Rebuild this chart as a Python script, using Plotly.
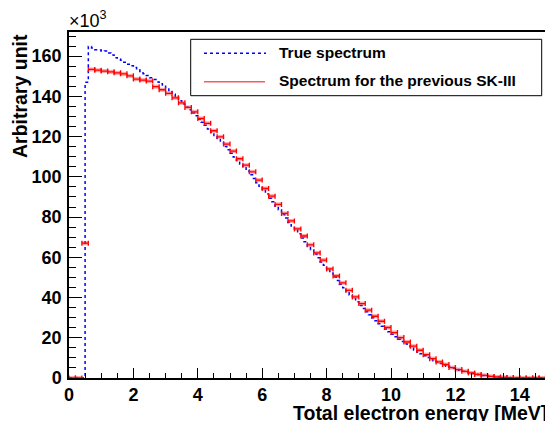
import numpy as np
import plotly.graph_objects as go

# ---------------- data ----------------
true_bin_width = 0.1   # MeV
sk3_bin_width = 0.2    # MeV
x_max = 15.0

# True spectrum, 0.1 MeV bins starting at 0 MeV (units of 10^3)
true_counts = [
    0, 0, 0, 0, 0,
    147.0, 164.8, 164.0, 163.2, 163.0,
    162.4, 162.6, 161.5, 160.6, 159.2, 158.6, 157.9, 157.0, 156.0, 155.2,
    154.3, 153.2, 152.4, 151.3, 150.4, 149.2, 148.4, 147.2, 146.3, 145.0,
    144.0, 142.9, 141.1, 139.4, 137.8, 136.2, 134.6, 133.4, 131.7, 130.4,
    128.6, 127.1, 125.6, 123.8, 122.1, 120.5, 118.6, 117.2, 115.1, 113.5,
    111.7, 109.8, 108.1, 106.4, 104.5, 102.9, 101.0, 99.2, 97.1, 95.3,
    93.2, 91.5, 89.4, 87.6, 85.4, 83.6, 81.3, 79.5, 77.4, 75.5,
    73.6, 71.7, 69.6, 67.7, 65.6, 63.8, 61.6, 59.8, 57.7, 56.0,
    53.9, 52.2, 50.2, 48.5, 46.6, 44.9, 43.0, 41.3, 39.5, 37.9,
    36.1, 34.6, 32.9, 31.4, 29.9, 28.5, 27.0, 25.7, 24.3, 23.0,
    21.7, 20.5, 19.3, 18.2, 17.0, 15.9, 14.9, 13.9, 12.9, 12.0,
    11.1, 10.2, 9.4, 8.6, 7.9, 7.2, 6.5, 5.9, 5.3, 4.8,
    4.2, 3.8, 3.3, 2.9, 2.5, 2.2, 1.9, 1.6, 1.3, 1.1,
    0.9, 0.7, 0.6, 0.45, 0.35, 0.25, 0.2, 0.15, 0.1, 0.07,
    0.05, 0.04, 0.03, 0.02, 0.02, 0.01, 0.01, 0.01, 0, 0,
]

# Spectrum for the previous SK-III, 0.2 MeV bins starting at 0 MeV
sk3_counts = [
    0, 0, 67.0, 153.4, 153.0, 152.6, 152.2, 151.7, 151.2, 150.2,
    148.6, 148.1, 147.6, 144.8, 143.3, 141.5, 139.3, 136.8, 134.5, 132.3,
    129.0, 126.6, 122.9, 119.9, 116.3, 112.8, 109.0, 105.8, 102.5, 98.4,
    94.2, 90.4, 86.3, 81.8, 78.1, 74.1, 70.6, 66.2, 62.2, 58.6,
    54.2, 50.7, 47.3, 43.6, 40.3, 37.0, 33.7, 30.7, 28.2, 25.1,
    22.6, 20.1, 17.9, 15.8, 13.8, 11.6, 9.6, 8.0, 6.7, 5.2,
    4.2, 3.3, 2.5, 1.8, 1.3, 0.8, 0.5, 0.3, 0.2, 0.1,
    0.05, 0.03, 0.02, 0.01, 0,
]

legend_labels = ["True spectrum", "Spectrum for the previous SK-III"]
x_title = "Total electron energy [MeV]"
y_title = "Arbitrary unit"
x_tickvals = [0, 2, 4, 6, 8, 10, 12, 14]
y_tickvals = [0, 20, 40, 60, 80, 100, 120, 140, 160]

# ---------------- derived ----------------
true_edges = np.arange(len(true_counts) + 1) * true_bin_width
true_step_y = list(true_counts) + [true_counts[-1]]
sk3_centers = (np.arange(len(sk3_counts)) + 0.5) * sk3_bin_width

FONT = "Liberation Sans, Arial, sans-serif"
# page is rendered with an 8px body margin -> compensate
OFF = 8
PAGE_W, PAGE_H = 553, 421
W, H = PAGE_W - OFF, PAGE_H - OFF
# plot frame in page pixels
FX0, FX1, FY0, FY1 = 69, 552, 32, 378
L = FX0 - OFF
R = W - (FX1 - OFF)
T = FY0 - OFF
B = H - (FY1 - OFF)
pw, ph = FX1 - FX0, FY1 - FY0

def px(xp):  # page x pixel -> paper
    return (xp - FX0) / pw

def py(yp):  # page y pixel -> paper
    return (FY1 - yp) / ph

fig = go.Figure()

# True spectrum: dotted blue histogram
fig.add_trace(go.Scatter(
    x=true_edges, y=true_step_y, mode="lines", line_shape="hv",
    line=dict(color="#0000ff", width=1.5, dash="dot"),
    showlegend=False, hoverinfo="skip",
))

# SK-III: light band under the bars
fig.add_trace(go.Scatter(
    x=sk3_centers, y=sk3_counts, mode="markers",
    marker=dict(size=0.1, color="rgba(255,0,0,0)"),
    error_x=dict(type="constant", value=sk3_bin_width / 2,
                 color="rgba(255,60,60,0.45)", thickness=4, width=0),
    showlegend=False, hoverinfo="skip",
))
# SK-III: red horizontal error bars with end caps
fig.add_trace(go.Scatter(
    x=sk3_centers, y=sk3_counts, mode="markers",
    marker=dict(size=0.1, color="rgba(255,0,0,0)"),
    error_x=dict(type="constant", value=sk3_bin_width / 2,
                 color="#ff0000", thickness=1.3, width=2.5),
    showlegend=False, hoverinfo="skip",
))

# Legend (manual, ROOT style)
lx0, lx1, ly0, ly1 = 190.7, 541.7, 39.3, 95.7
fig.add_shape(type="rect", xref="paper", yref="paper",
              x0=px(lx0), x1=px(lx1), y0=py(ly1), y1=py(ly0),
              line=dict(color="black", width=1), fillcolor="white", layer="above")
fig.add_shape(type="line", xref="paper", yref="paper",
              x0=px(204), x1=px(266), y0=py(53.3), y1=py(53.3),
              line=dict(color="#0000ff", width=1.5, dash="dot"), layer="above")
fig.add_shape(type="line", xref="paper", yref="paper",
              x0=px(204), x1=px(265), y0=py(81.7), y1=py(81.7),
              line=dict(color="#ff5a5a", width=1.6), layer="above")
for lab, yy in zip(legend_labels, [52.7, 81.0]):
    fig.add_annotation(text=lab, xref="paper", yref="paper",
                       x=px(277), y=py(yy), xanchor="left", yanchor="middle",
                       showarrow=False,
                       font=dict(family=FONT, size=15.5, color="black", weight="bold"))

# Axis titles
fig.add_annotation(text=x_title, xref="paper", yref="paper",
                   x=px(549), y=py(412.5), xanchor="right", yanchor="middle",
                   showarrow=False,
                   font=dict(family=FONT, size=19.5, color="black", weight="bold"))
fig.add_annotation(text=y_title, xref="paper", yref="paper",
                   x=px(20), y=py(32), xanchor="center", yanchor="top",
                   textangle=-90, showarrow=False,
                   font=dict(family=FONT, size=19.5, color="black", weight="bold"))
# Exponent
fig.add_annotation(text="×10<sup>3</sup>", xref="paper", yref="paper",
                   x=px(67), y=py(33), xanchor="left", yanchor="bottom",
                   showarrow=False,
                   font=dict(family=FONT, size=18, color="black"))

fig.update_xaxes(
    range=[0, x_max], tickvals=x_tickvals, ticktext=[str(v) for v in x_tickvals],
    ticks="inside", ticklen=10, tickwidth=1.2, tickcolor="black",
    minor=dict(ticks="inside", ticklen=5, dtick=0.5, tickcolor="black", tickwidth=1),
    showline=True, linecolor="black", linewidth=1.5, mirror=True,
    showgrid=False, zeroline=False, automargin=False,
    tickfont=dict(family=FONT, size=18, color="black", weight="bold"),
    ticklabelstandoff=0,
)
fig.update_yaxes(
    range=[0, 172], tickvals=y_tickvals, ticktext=[str(v) for v in y_tickvals],
    ticks="inside", ticklen=13, tickwidth=1.2, tickcolor="black",
    minor=dict(ticks="inside", ticklen=7, dtick=5, tickcolor="black", tickwidth=1),
    showline=True, linecolor="black", linewidth=1.5, mirror=True,
    showgrid=False, zeroline=False, automargin=False,
    tickfont=dict(family=FONT, size=18, color="black", weight="bold"),
    ticklabelstandoff=2,
)

fig.update_layout(
    width=W, height=H,
    margin=dict(l=L, r=R, t=T, b=B, pad=0, autoexpand=False),
    paper_bgcolor="white", plot_bgcolor="white",
    showlegend=False,
)

fig.write_html("out.html")
